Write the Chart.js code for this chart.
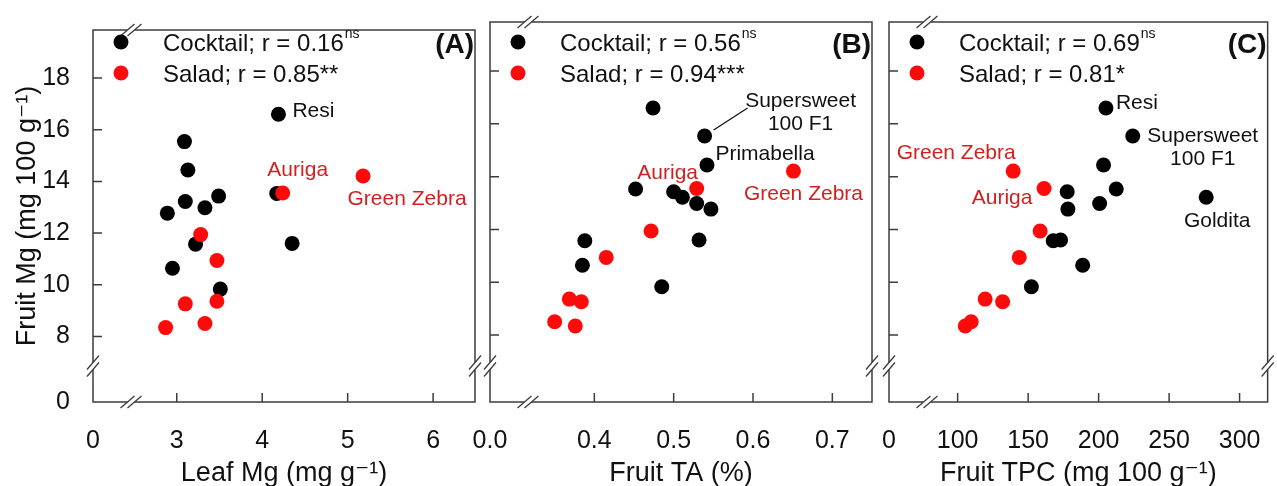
<!DOCTYPE html>
<html>
<head>
<meta charset="utf-8">
<script src="https://cdn.jsdelivr.net/npm/chart.js@4.4.0/dist/chart.umd.min.js"></script>
<style>
    html, body { margin: 0; padding: 0; background: #fff; }
    #wrap { position: relative; width: 1277px; height: 486px; }
    #wrap canvas { position: absolute; left: 0; top: 0; }
</style>
</head>
<body>
<div id="wrap">
    <canvas id="panelA" width="1277" height="486"></canvas>
    <canvas id="panelB" width="1277" height="486"></canvas>
    <canvas id="panelC" width="1277" height="486"></canvas>
</div>
<script>
// fruit Mg (mg 100 g-1), shared by the three panels
const mgCocktail = [16.60, 15.54, 14.44, 13.53, 13.43, 13.22, 12.98, 12.77, 11.57, 11.60, 10.64, 9.83];
const mgSalad = [14.21, 13.55, 11.94, 10.94, 9.36, 9.26, 8.50, 8.34];
const namesCocktail = ['Resi', 'Supersweet 100 F1', 'Primabella', '', '', 'Goldita', '', '', '', '', '', ''];
const namesSalad = ['Green Zebra', 'Auriga', '', '', '', '', '', ''];

// x variables
const leafMgCocktail = [4.19, 3.09, 3.13, 4.17, 3.49, 3.10, 3.33, 2.89, 3.22, 4.35, 2.95, 3.51];
const leafMgSalad = [5.18, 4.24, 3.28, 3.47, 3.47, 3.10, 3.33, 2.87];
const taCocktail = [0.474, 0.539, 0.542, 0.452, 0.500, 0.511, 0.529, 0.547, 0.388, 0.532, 0.385, 0.485];
const taSalad = [0.651, 0.529, 0.4715, 0.415, 0.3685, 0.3836, 0.350, 0.376];
const tpcCocktail = [205.2, 224.2, 203.5, 212.5, 177.7, 276.3, 200.7, 178.2, 167.8, 173.0, 188.7, 152.3];
const tpcSalad = [139.4, 161.3, 158.5, 143.7, 119.5, 131.9, 109.6, 105.4];

// ticks (the broken axes show "0" at their start)
const yTicks = [8, 10, 12, 14, 16, 18];
const xTicksA = [3, 4, 5, 6];
const xTicksB = [0.4, 0.5, 0.6, 0.7];
const xTicksC = [100, 150, 200, 250, 300];

const legendCocktail = ['Cocktail; r = 0.16', 'Cocktail; r = 0.56', 'Cocktail; r = 0.69'];
const legendCocktailSig = ['ns', 'ns', 'ns'];
const legendSalad = ['Salad; r = 0.85**', 'Salad; r = 0.94***', 'Salad; r = 0.81*'];
const panelLetters = ['(A)', '(B)', '(C)'];

const FONT = "'Liberation Sans', Arial, 'DejaVu Sans', sans-serif";
const RED = '#ff0a0a';
const RED_TEXT = '#d41f1f';
const FRAME = '#3c3c3c';

function pairs(xs, ys) {
    return xs.map((x, i) => ({x: x, y: ys[i]}));
}

function drawBreak(ctx, x, y, vertical) {
    ctx.save();
    ctx.strokeStyle = '#fff';
    ctx.lineWidth = 3;
    ctx.beginPath();
    if (vertical) {
        ctx.moveTo(x, y - 3.5);
        ctx.lineTo(x, y + 3.5);
    } else {
        ctx.moveTo(x - 3.5, y);
        ctx.lineTo(x + 3.5, y);
    }
    ctx.stroke();
    ctx.strokeStyle = FRAME;
    ctx.lineWidth = 1.3;
    ctx.beginPath();
    [-3.5, 3.5].forEach(d => {
        if (vertical) {
            ctx.moveTo(x - 6, y + d + 7);
            ctx.lineTo(x + 6, y + d - 7);
        } else {
            ctx.moveTo(x + d - 7, y + 6);
            ctx.lineTo(x + d + 7, y - 6);
        }
    });
    ctx.stroke();
    ctx.restore();
}

const framePlugin = {
    id: 'frame',
    beforeDatasetsDraw(chart) {
        const {ctx, chartArea: a, scales} = chart;
        ctx.save();
        ctx.strokeStyle = FRAME;
        ctx.lineWidth = 1.5;
        ctx.strokeRect(a.left, a.top, a.right - a.left, a.bottom - a.top);
        // inward tick marks
        ctx.beginPath();
        scales.y.ticks.forEach(t => {
            if (t.value === scales.y.min) return;
            const py = scales.y.getPixelForValue(t.value);
            ctx.moveTo(a.left, py);
            ctx.lineTo(a.left + 9, py);
        });
        scales.x.ticks.forEach(t => {
            if (t.value === scales.x.min) return;
            const px = scales.x.getPixelForValue(t.value);
            ctx.moveTo(px, a.bottom);
            ctx.lineTo(px, a.bottom - 9);
        });
        ctx.stroke();
        ctx.restore();
        drawBreak(ctx, a.left, a.bottom - 36, true);
        drawBreak(ctx, a.right, a.bottom - 36, true);
        drawBreak(ctx, a.left + 38, a.bottom, false);
        drawBreak(ctx, a.left + 38, a.top, false);
    },
    afterDatasetsDraw(chart, args, opts) {
        const {ctx, chartArea: a, scales} = chart;
        const p = opts.panel;
        ctx.save();
        // legend
        const rows = [
            {color: '#000', text: legendCocktail[p], sup: legendCocktailSig[p], y: 42},
            {color: RED, text: legendSalad[p], sup: '', y: 73}
        ];
        rows.forEach(r => {
            ctx.fillStyle = r.color;
            ctx.beginPath();
            ctx.arc(a.left + 28, r.y, 7.5, 0, Math.PI * 2);
            ctx.fill();
            ctx.fillStyle = '#111';
            ctx.font = '24px ' + FONT;
            ctx.textAlign = 'left';
            ctx.textBaseline = 'middle';
            ctx.fillText(r.text, a.left + 70, r.y + 2);
            if (r.sup) {
                const w = ctx.measureText(r.text).width;
                ctx.font = '14px ' + FONT;
                ctx.fillText(r.sup, a.left + 71 + w, r.y - 8);
            }
        });
        // panel letter
        ctx.font = 'bold 28px ' + FONT;
        ctx.textAlign = 'right';
        ctx.fillStyle = '#111';
        ctx.fillText(panelLetters[p], a.right - 1, 45);
        // variety labels
        ctx.font = '21px ' + FONT;
        opts.labels.forEach(l => {
            const ds = chart.data.datasets[l.ds].data[l.i];
            const px = scales.x.getPixelForValue(ds.x);
            const py = scales.y.getPixelForValue(ds.y);
            const name = (l.ds === 0 ? namesCocktail : namesSalad)[l.i];
            const parts = l.split ? l.split : [name];
            ctx.fillStyle = l.ds === 0 ? '#111' : RED_TEXT;
            ctx.textAlign = l.align || 'center';
            parts.forEach((txt, k) => {
                ctx.fillText(txt, px + l.dx, py + l.dy + k * 23);
            });
            if (l.leader) {
                ctx.strokeStyle = '#111';
                ctx.lineWidth = 1.3;
                ctx.beginPath();
                ctx.moveTo(px + l.leader[0], py + l.leader[1]);
                ctx.lineTo(px + l.leader[2], py + l.leader[3]);
                ctx.stroke();
            }
        });
        ctx.restore();
    }
};

function makePanel(id, p, xs, xTicks, xTitle, xFmt, pad) {
    const cocktail = pairs(xs[0], mgCocktail);
    const salad = pairs(xs[1], mgSalad);
    return new Chart(document.getElementById(id), {
        type: 'scatter',
        data: {
            datasets: [
                {label: 'Cocktail', data: cocktail, backgroundColor: '#000', borderWidth: 0, pointRadius: 7.5, order: 2},
                {label: 'Salad', data: salad, backgroundColor: RED, borderWidth: 0, pointRadius: 7.5, order: 1}
            ]
        },
        options: {
            responsive: false,
            animation: false,
            events: [],
            layout: {padding: {left: pad.left, right: pad.right, top: 22, bottom: 0}},
            plugins: {
                legend: {display: false},
                tooltip: {enabled: false},
                frame: {panel: p, labels: pad.labels}
            },
            scales: {
                x: {
                    type: 'linear',
                    min: pad.xMin,
                    max: pad.xMax,
                    afterBuildTicks: s => { s.ticks = [s.min].concat(xTicks).map(v => ({value: v})); },
                    afterFit: s => { s.height = 84; },
                    grid: {display: false},
                    border: {display: false},
                    ticks: {
                        autoSkip: false,
                        maxRotation: 0,
                        padding: 16,
                        color: '#111',
                        font: {family: FONT, size: 25},
                        callback: (v) => v === pad.xMin ? xFmt(0) : xFmt(v)
                    },
                    title: {
                        display: true,
                        text: xTitle,
                        color: '#111',
                        padding: {top: 0, bottom: -4},
                        font: {family: FONT, size: 27}
                    }
                },
                y: {
                    type: 'linear',
                    min: 5.46,
                    max: 19.86,
                    afterBuildTicks: s => { s.ticks = [s.min].concat(yTicks).map(v => ({value: v})); },
                    afterFit: s => { s.width = p === 0 ? 93 : 0; },
                    grid: {display: false},
                    border: {display: false},
                    ticks: {
                        display: p === 0,
                        autoSkip: false,
                        padding: 15,
                        color: '#111',
                        font: {family: FONT, size: 25},
                        callback: (v) => v === 5.46 ? '0' : v
                    },
                    title: {
                        display: p === 0,
                        text: 'Fruit Mg (mg 100 g\u207B\u00B9)',
                        color: '#111',
                        padding: {top: 11, bottom: 0},
                        font: {family: FONT, size: 27}
                    }
                }
            }
        },
        plugins: [framePlugin]
    });
}

makePanel('panelA', 0, [leafMgCocktail, leafMgSalad], xTicksA, 'Leaf Mg (mg g\u207B\u00B9)', v => String(v), {
    left: 0, right: 802, xMin: 2.02, xMax: 6.49,
    labels: [
        {ds: 0, i: 0, dx: 14, dy: -3, align: 'left'},
        {ds: 1, i: 1, dx: 15, dy: -23},
        {ds: 1, i: 0, dx: 44, dy: 23}
    ]
});

makePanel('panelB', 1, [taCocktail, taSalad], xTicksB, 'Fruit TA (%)', v => v.toFixed(1), {
    left: 490, right: 405, xMin: 0.2685, xMax: 0.75,
    labels: [
        {ds: 0, i: 1, dx: 96, dy: -35, split: ['Supersweet', '100 F1'], leader: [9, -6, 43, -28]},
        {ds: 0, i: 2, dx: 58, dy: -11},
        {ds: 1, i: 1, dx: -29, dy: -15},
        {ds: 1, i: 0, dx: 10, dy: 23}
    ]
});

makePanel('panelC', 2, [tpcCocktail, tpcSalad], xTicksC, 'Fruit TPC (mg 100 g\u207B\u00B9)', v => String(v), {
    left: 889, right: 6, xMin: 51.3, xMax: 319.9,
    labels: [
        {ds: 0, i: 0, dx: 10, dy: -5, align: 'left'},
        {ds: 0, i: 1, dx: 70, dy: 0, split: ['Supersweet', '100 F1']},
        {ds: 0, i: 5, dx: 11, dy: 24},
        {ds: 1, i: 0, dx: -57, dy: -18},
        {ds: 1, i: 1, dx: -42, dy: 10}
    ]
});
</script>
</body>
</html>
